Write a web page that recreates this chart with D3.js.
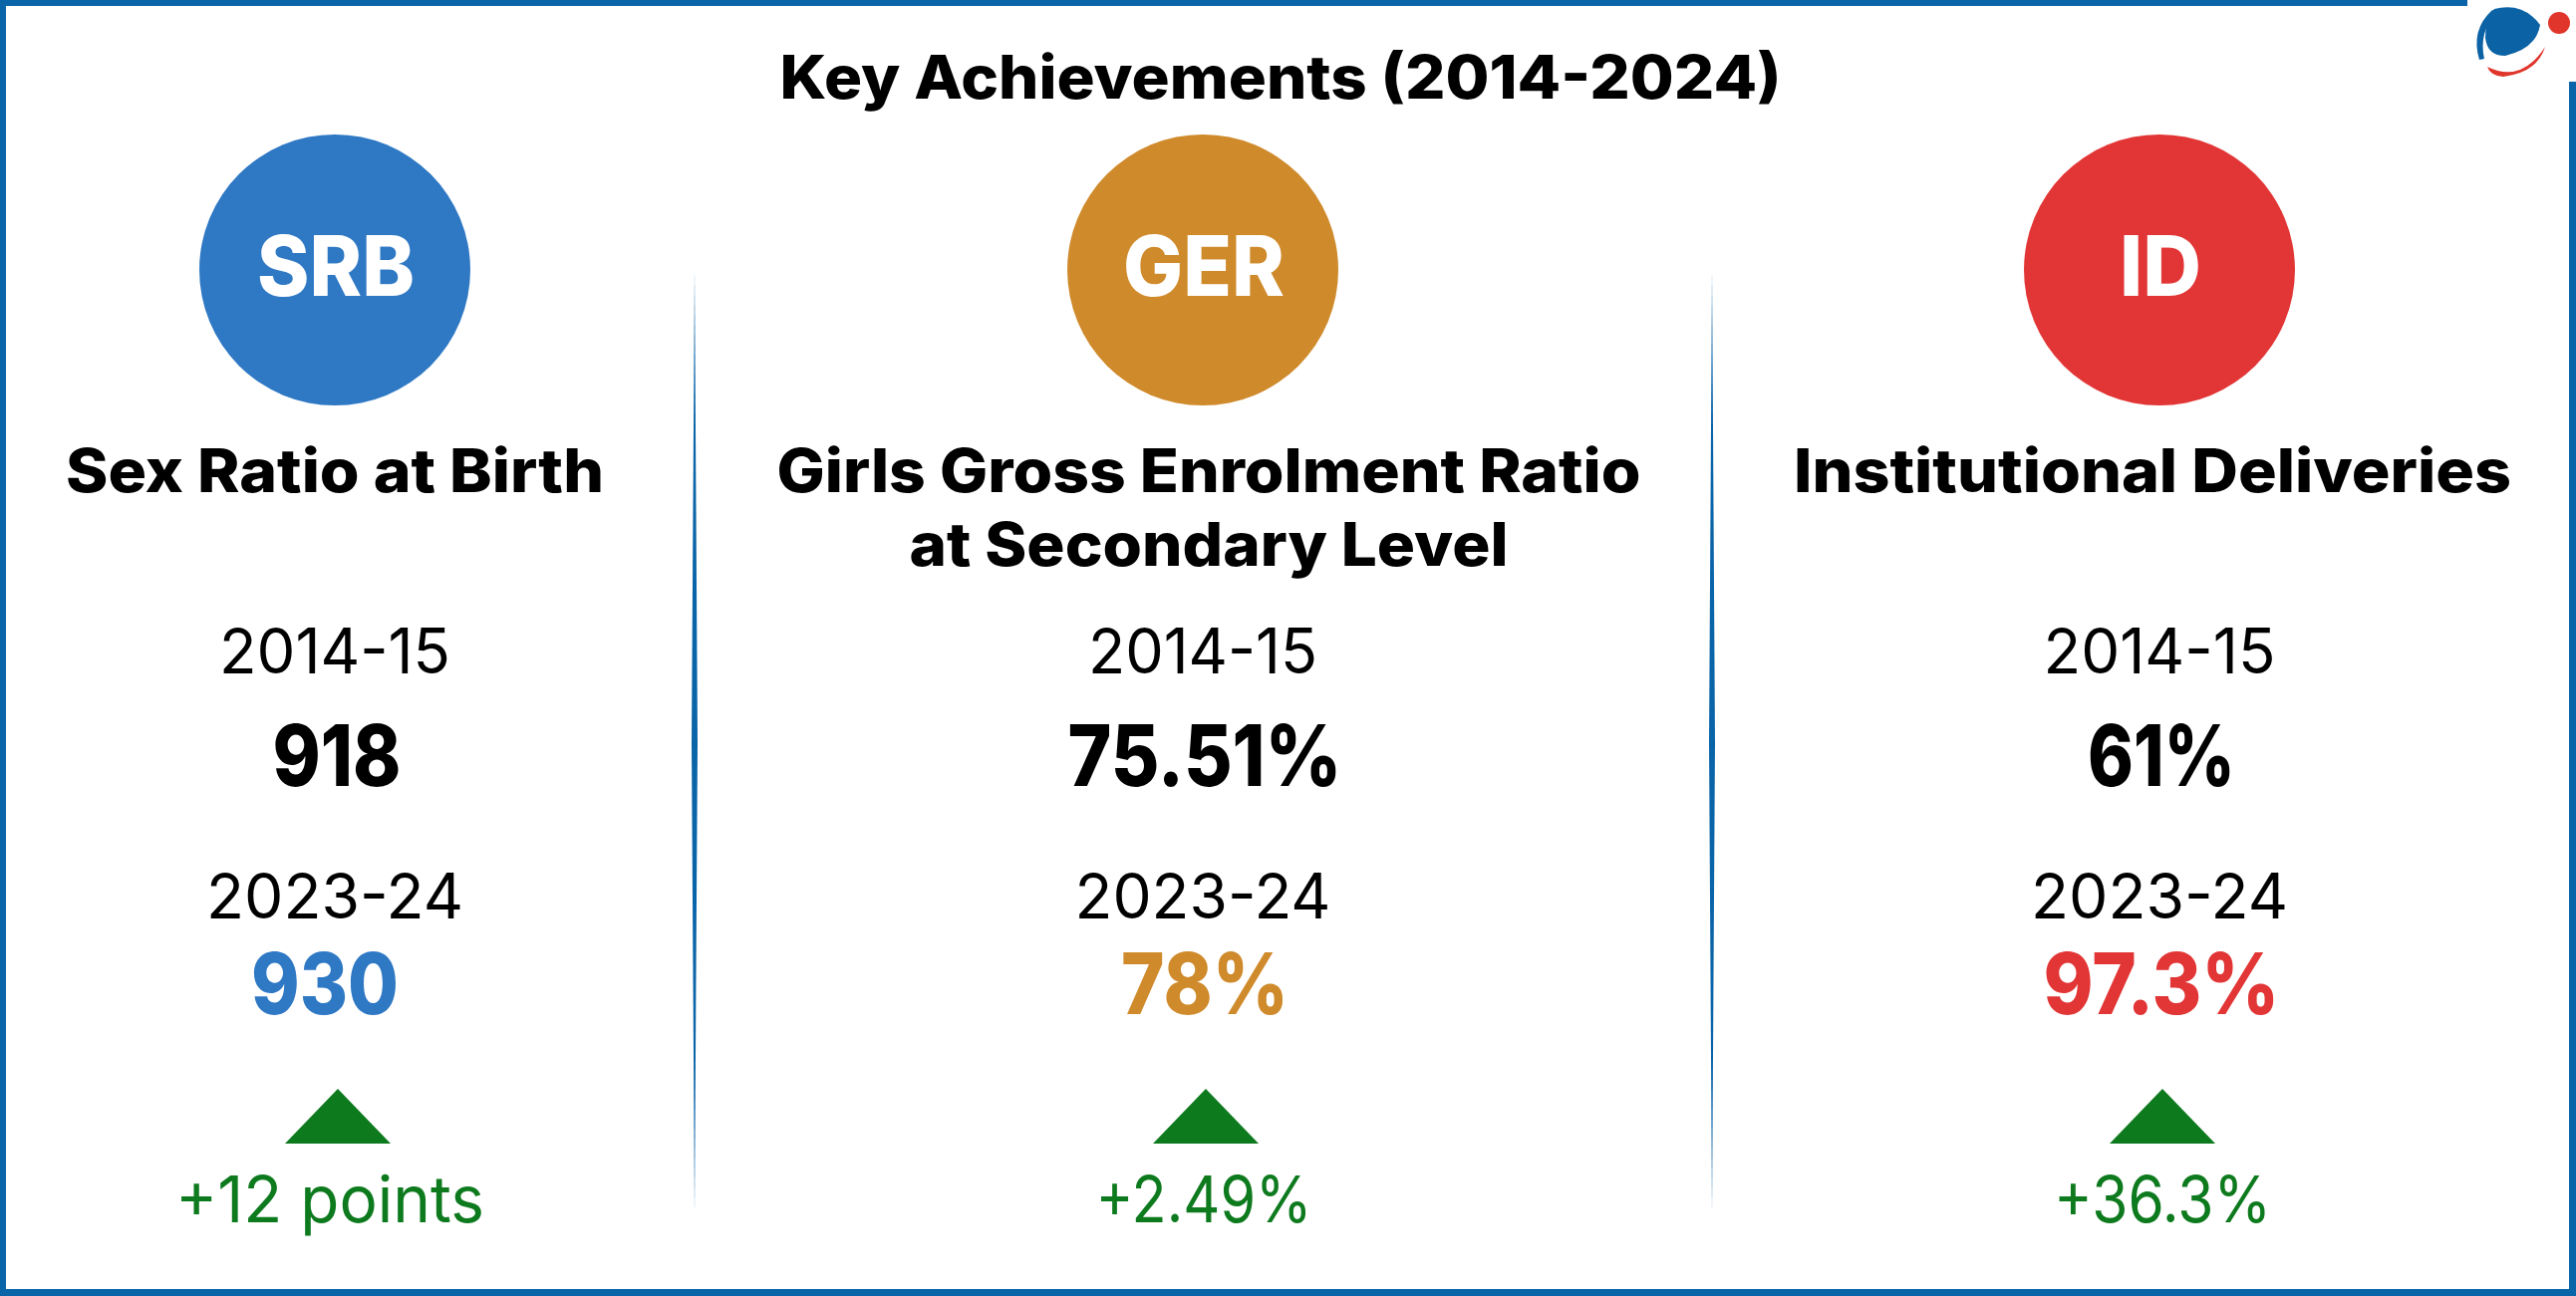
<!DOCTYPE html>
<html>
<head>
<meta charset="utf-8">
<script src="https://cdn.jsdelivr.net/npm/d3@7"></script>
<style>
  html, body { margin: 0; padding: 0; background: #ffffff; }
  svg { display: block; }
</style>
</head>
<body>
<div id="chart"></div>
<script>
// ---------- DATA ----------
const title = "Key Achievements (2014-2024)";
const categories = ["SRB", "GER", "ID"];
const categoryLabels = [
  ["Sex Ratio at Birth"],
  ["Girls Gross Enrolment Ratio", "at Secondary Level"],
  ["Institutional Deliveries"]
];
const periods = ["2014-15", "2023-24"];
const values2014 = ["918", "75.51%", "61%"];
const values2023 = ["930", "78%", "97.3%"];
const changes = ["+12 points", "+2.49%", "+36.3%"];

// ---------- LAYOUT / STYLE ----------
const W = 2585, H = 1301;
const FONT = "Inter, Lato, 'Open Sans', sans-serif";
const borderBlue = "#0a64a8";
const green = "#0e7a1e";
const color = d3.scaleOrdinal().domain(categories).range(["#2e78c4", "#cf8a2b", "#e23535"]);
const cx = d3.scaleOrdinal().domain(categories).range([336, 1207, 2167]);

// text widths and small centre offsets (to emulate the reference typeface)
const abbrW = [158, 162, 82];
const labelW = [[540], [867, 601], [720]];
const labelDx = [0, 6, -7];
const yearW = [[232, 258], [230, 257], [233, 258]];
const val1W = [129, 275, 148];
const val2W = [148, 168, 237];
const val2Dx = [-10, 2, 2];
const changeW = [310, 217, 218];
const changeDx = [-5, 1, 3];

const svg = d3.select("#chart").append("svg")
  .attr("width", W).attr("height", H)
  .attr("viewBox", `0 0 ${W} ${H}`);

svg.append("rect").attr("width", W).attr("height", H).attr("fill", "#fff");

// ---------- frame ----------
const frame = svg.append("g").attr("fill", borderBlue);
frame.append("rect").attr("x", 0).attr("y", 0).attr("width", 2476).attr("height", 6);
frame.append("rect").attr("x", 0).attr("y", 0).attr("width", 6).attr("height", H);
frame.append("rect").attr("x", 0).attr("y", H - 7).attr("width", W).attr("height", 7);
frame.append("rect").attr("x", W - 7).attr("y", 82).attr("width", 7).attr("height", H - 82);

// ---------- logo ----------
const logo = svg.append("g");
logo.append("path")
  .attr("d", "M2503,9 Q2532,2 2549,25 Q2545,49 2514,56 Q2496,56 2494,38 Q2494,18 2503,9 Z")
  .attr("fill", "#0b62a4");
logo.append("path")
  .attr("d", "M2501,10 Q2479,30 2488,60 L2493,59 Q2487,33 2505,12 Z")
  .attr("fill", "#0b62a4");
logo.append("path")
  .attr("d", "M2496,67 Q2530,84 2554,47 Q2546,73 2512,77 Q2499,76 2496,67 Z")
  .attr("fill", "#e0352b");
logo.append("circle").attr("cx", 2568).attr("cy", 23).attr("r", 11).attr("fill", "#e0352b");

// ---------- title ----------
svg.append("text")
  .attr("x", 1285).attr("y", 99)
  .attr("text-anchor", "middle")
  .attr("font-family", FONT).attr("font-weight", 800).attr("font-size", 60)
  .attr("textLength", 1005).attr("lengthAdjust", "spacingAndGlyphs")
  .attr("fill", "#000")
  .text(title);

// ---------- dividers ----------
[697, 1718].forEach(x => {
  svg.append("path")
    .attr("d", `M${x},272 L${x + 3},745 L${x},1217 L${x - 3},745 Z`)
    .attr("fill", borderBlue);
});

// ---------- columns ----------
const cols = svg.selectAll("g.col").data(categories).join("g").attr("class", "col");

cols.append("circle")
  .attr("cx", d => cx(d)).attr("cy", 271).attr("r", 136)
  .attr("fill", d => color(d));

cols.append("text")
  .attr("x", d => cx(d) + 1).attr("y", 297)
  .attr("text-anchor", "middle")
  .attr("font-family", FONT).attr("font-weight", 800).attr("font-size", 84)
  .attr("fill", "#fff")
  .attr("textLength", (d, i) => abbrW[i]).attr("lengthAdjust", "spacingAndGlyphs")
  .text(d => d);

cols.each(function (d, i) {
  const g = d3.select(this);
  categoryLabels[i].forEach((line, j) => {
    g.append("text")
      .attr("x", cx(d) + labelDx[i]).attr("y", 494 + j * 74)
      .attr("text-anchor", "middle")
      .attr("font-family", FONT).attr("font-weight", 800).attr("font-size", 60)
      .attr("fill", "#000")
      .attr("textLength", labelW[i][j]).attr("lengthAdjust", "spacingAndGlyphs")
      .text(line);
  });
});

// period labels and values
cols.append("text")
  .attr("x", d => cx(d)).attr("y", 676)
  .attr("text-anchor", "middle")
  .attr("font-family", FONT).attr("font-weight", 400).attr("font-size", 63)
  .attr("fill", "#000")
  .attr("textLength", (d, i) => yearW[i][0]).attr("lengthAdjust", "spacingAndGlyphs")
  .text(periods[0]);

cols.append("text")
  .attr("x", d => cx(d) + 2).attr("y", 789)
  .attr("text-anchor", "middle")
  .attr("font-family", FONT).attr("font-weight", 800).attr("font-size", 85)
  .attr("fill", "#000")
  .attr("textLength", (d, i) => val1W[i]).attr("lengthAdjust", "spacingAndGlyphs")
  .text((d, i) => values2014[i]);

cols.append("text")
  .attr("x", d => cx(d)).attr("y", 922)
  .attr("text-anchor", "middle")
  .attr("font-family", FONT).attr("font-weight", 400).attr("font-size", 63)
  .attr("fill", "#000")
  .attr("textLength", (d, i) => yearW[i][1]).attr("lengthAdjust", "spacingAndGlyphs")
  .text(periods[1]);

cols.append("text")
  .attr("x", (d, i) => cx(d) + val2Dx[i]).attr("y", 1018)
  .attr("text-anchor", "middle")
  .attr("font-family", FONT).attr("font-weight", 800).attr("font-size", 85)
  .attr("fill", d => color(d))
  .attr("textLength", (d, i) => val2W[i]).attr("lengthAdjust", "spacingAndGlyphs")
  .text((d, i) => values2023[i]);

// up triangle
cols.append("path")
  .attr("d", d => `M${cx(d) + 3},1093 L${cx(d) + 56},1148 L${cx(d) - 50},1148 Z`)
  .attr("fill", green);

cols.append("text")
  .attr("x", (d, i) => cx(d) + changeDx[i]).attr("y", 1227)
  .attr("text-anchor", "middle")
  .attr("font-family", FONT).attr("font-weight", 400).attr("font-size", 65)
  .attr("fill", green)
  .attr("textLength", (d, i) => changeW[i]).attr("lengthAdjust", "spacingAndGlyphs")
  .text((d, i) => changes[i]);
</script>
</body>
</html>
